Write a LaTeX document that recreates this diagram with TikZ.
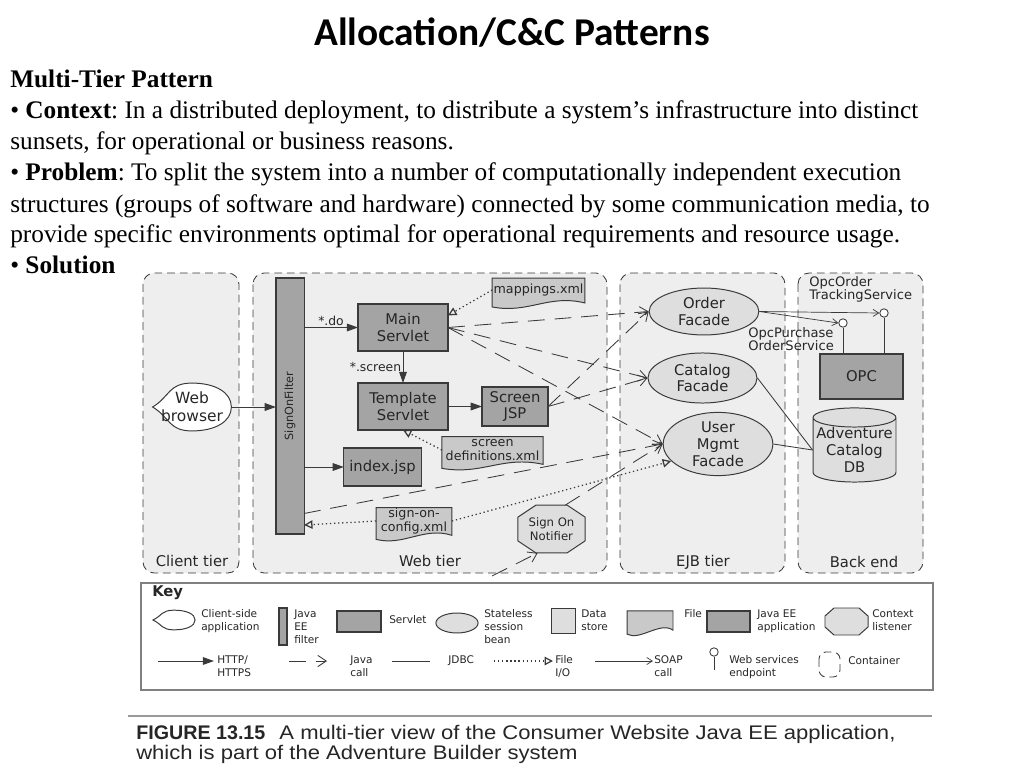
\documentclass[tikz,border=0pt]{standalone}
\usepackage{fontspec}
\setmainfont{Liberation Serif}
\newfontfamily\titlefont{Carlito}
\newfontfamily\figfont{DejaVu Sans}
\newfontfamily\capfont[FakeStretch=1.12]{Liberation Sans}
\newfontfamily\capbold{Liberation Sans}
\usetikzlibrary{arrows.meta,shapes.geometric,calc}

\pgfdeclarelayer{back}
\pgfdeclarelayer{mid}
\pgfsetlayers{back,mid,main}

\definecolor{tierfill}{HTML}{EEEEEE}
\definecolor{boxgray}{HTML}{A4A4A4}
\definecolor{beanfill}{HTML}{DEDEDE}
\definecolor{filefill}{HTML}{C9C9C9}
\definecolor{linegray}{HTML}{3A3A3A}
\definecolor{inkgray}{HTML}{262626}

% outline of a file (wavy bottom) round a node
\newcommand\docfile[1]{%
  \path[filebody] (#1.north west) -- (#1.north east) -- ($(#1.south east)+(0,1)$)
    .. controls ($(#1.south)+(10,-8)$) and ($(#1.south)+(-10,12)$) .. ($(#1.south west)+(0,5)$) -- cycle;}
% outline of a client-side application
\newcommand\clientout[1]{%
  \path[clientbody] (#1.west) .. controls ($(#1.west)!0.45!(#1.north)$) and ($(#1.north)!0.6!(#1.north west)$) .. (#1.north)
    .. controls ($(#1.north)!0.6!(#1.north east)$) and ($(#1.east)!0.6!(#1.north east)$) .. (#1.east)
    .. controls ($(#1.east)!0.6!(#1.south east)$) and ($(#1.south)!0.6!(#1.south east)$) .. (#1.south)
    .. controls ($(#1.south)!0.6!(#1.south west)$) and ($(#1.west)!0.45!(#1.south)$) .. (#1.west) -- cycle;}
% outline of a context listener (octagon)
\newcommand\octout[3]{%
  \path[listenbody] ($(#1.north west)+(#2,0)$) -- ($(#1.north east)+(-#2,0)$) -- ($(#1.north east)+(0,#3)$)
    -- ($(#1.south east)+(0,-#3)$) -- ($(#1.south east)+(-#2,0)$) -- ($(#1.south west)+(#2,0)$)
    -- ($(#1.south west)+(0,-#3)$) -- ($(#1.north west)+(0,#3)$) -- cycle;}

\tikzset{
  tier/.style={draw=linegray, fill=tierfill, line width=0.6pt, dash pattern=on 5.5pt off 3.5pt, rounded corners=8pt},
  tierlbl/.style={font=\figfont\fontsize{10.5}{12}\selectfont, text=inkgray},
  srv/.style={draw=linegray, fill=boxgray, line width=0.8pt, align=center, text=inkgray, inner sep=1pt, outer sep=0pt,
    font=\figfont\fontsize{10.5}{12}\selectfont, minimum width=64pt, minimum height=33.4pt},
  bean/.style={ellipse, draw=linegray, fill=beanfill, line width=0.7pt, align=center, text=inkgray, inner sep=0pt,
    font=\figfont\fontsize{10.5}{12}\selectfont},
  store/.style={cylinder, shape border rotate=90, aspect=0.25, draw=linegray, fill=beanfill, line width=0.7pt,
    align=center, text=inkgray, inner sep=0pt, font=\figfont\fontsize{10.5}{12}\selectfont},
  xmlfile/.style={align=center, inner sep=0pt, outer sep=0pt, text=inkgray, font=\figfont\fontsize{9}{9.5}\selectfont},
  filebody/.style={draw=linegray, fill=filefill, line width=0.7pt},
  clientbody/.style={draw=linegray, fill=white, line width=0.7pt},
  listenbody/.style={draw=linegray, fill=beanfill, line width=0.7pt},
  endpt/.style={circle, draw=linegray, fill=white, line width=0.6pt, minimum size=6pt, inner sep=0pt},
  svclbl/.style={align=left, inner sep=0pt, text=inkgray, font=\figfont\fontsize{9.3}{9.3}\selectfont},
  arrlbl/.style={inner sep=1pt, text=inkgray, font=\figfont\fontsize{8.8}{10}\selectfont},
  http/.style={draw=linegray, line width=0.7pt, -{Triangle[length=8pt,width=5.5pt]}},
  jcall/.style={draw=linegray, line width=0.6pt, dash pattern=on 12pt off 7pt, -{Straight Barb[length=6pt,width=8pt]}},
  fio/.style={draw=linegray, line width=0.9pt, dotted, -{Triangle[open,length=6pt,width=6pt]}},
  soap/.style={draw=linegray, line width=0.5pt, -{Straight Barb[length=4pt,width=5pt]}},
  jdbc/.style={draw=linegray, line width=0.6pt},
  keytxt/.style={anchor=north west, align=left, inner sep=0pt, text=inkgray, font=\figfont\fontsize{7.5}{9.2}\selectfont},
  body/.style={anchor=base west, inner sep=0pt, font=\fontsize{18}{21}\selectfont},
}

\begin{document}
\frenchspacing
\begin{tikzpicture}[x=0.025cm, y=-0.025cm]
    \useasboundingbox (0,0) rectangle (1024,768);
    \begin{pgfonlayer}{back}
        \fill[white] (0,0) rectangle (1024,768);
        % the four containers
        \path[tier] (143,273) rectangle (239,573);
        \path[tier] (253,273) rectangle (607,573);
        \path[tier] (620,273) rectangle (785,573);
        \path[tier] (798,273) rectangle (923,573);
    \end{pgfonlayer}

    % slide text
    \node[anchor=base, inner sep=0pt, font=\titlefont\bfseries\fontsize{28}{32}\selectfont] (title) at (512,46) {Allocation/C\&C Patterns};
    \node[body] (head) at (10,88) {\textbf{Multi-Tier Pattern}};
    \node[body] (ctx1) at (10,119) {• \textbf{Context}: In a distributed deployment, to distribute a system’s infrastructure into distinct};
    \node[body] (ctx2) at (10,150) {sunsets, for operational or business reasons.};
    \node[body] (prb1) at (10,181) {• \textbf{Problem}: To split the system into a number of computationally independent execution};
    \node[body] (prb2) at (10,212) {structures (groups of software and hardware) connected by some communication media, to};
    \node[body] (prb3) at (10,242) {provide specific environments optimal for operational requirements and resource usage.};
    \node[body] (sol) at (10,273) {• \textbf{Solution}};

    % tier names
    \node[tierlbl] (lclient) at (192,561) {Client tier};
    \node[tierlbl] (lweb) at (430,561) {Web tier};
    \node[tierlbl] (lejb) at (703,562) {EJB tier};
    \node[tierlbl] (lback) at (864,562) {Back end};

    % client and web tier
    \node[minimum width=56pt, minimum height=34pt, inner sep=0pt, outer sep=0pt, align=center, text=inkgray,
        font=\figfont\fontsize{11}{12.5}\selectfont] (browser) at (192,407) {Web\\browser};
    \node[srv, minimum width=20pt, minimum height=182pt] (signon) at (290,406)
        {\rotatebox{90}{\fontsize{8}{10}\selectfont SignOnFilter}};
    \node[srv] (main) at (403,327.5) {Main\\Servlet};
    \node[srv] (tmpl) at (403,406.5) {Template\\Servlet};
    \node[srv, minimum width=47pt, minimum height=27.7pt] (scrjsp) at (515,406.5) {Screen\\JSP};
    \node[srv, minimum width=55pt, minimum height=27pt] (index) at (382.5,467) {index.jsp};
    \node[xmlfile, minimum width=66pt, minimum height=17pt] (maps) at (538.5,290) {mappings.xml};
    \node[xmlfile, minimum width=72pt, minimum height=19pt] (scrdef) at (492.5,450) {screen\\definitions.xml};
    \node[xmlfile, minimum width=54pt, minimum height=19pt] (sgncfg) at (414,521) {sign-on-\\config.xml};
    \node[inner sep=0pt, outer sep=0pt, minimum width=47.7pt, minimum height=34pt, align=center, text=inkgray,
        font=\figfont\fontsize{8.3}{10}\selectfont] (notif) at (551.5,529) {Sign On\\Notifier};
    \coordinate (notifsrc) at (492,576);

    % EJB tier and back end
    \node[bean, minimum width=78pt, minimum height=33.4pt] (ofac) at (704,311.5) {Order\\Facade};
    \node[bean, minimum width=77.5pt, minimum height=35.6pt] (cfac) at (702.5,378) {Catalog\\Facade};
    \node[bean, minimum width=78pt, minimum height=37pt] (umfac) at (718,444) {User\\Mgmt\\Facade};
    \node[srv, minimum width=59pt, minimum height=32pt] (opc) at (861.5,376.5) {OPC};
    \node[store, minimum width=59pt, minimum height=47pt] (db) at (854.5,450) {Adventure\\Catalog\\DB};
    \node[endpt] (pos) at (843,323) {};
    \node[endpt] (ots) at (884,313) {};
    \node[svclbl, anchor=west] (lots) at (809,289) {OpcOrder\\TrackingService};
    \node[svclbl, anchor=west] (lpos) at (748,339) {OpcPurchase\\OrderService};

    \begin{pgfonlayer}{mid}
        \clientout{browser}
        \docfile{maps}
        \docfile{scrdef}
        \docfile{sgncfg}
        \octout{notif}{18}{12}
    \end{pgfonlayer}

    % HTTP
    \draw[http] (browser.east) -- (browser.east -| signon.west);
    \draw[http] (main.west -| signon.east) -- node[arrlbl, above] (ldo) {*.do} (main.west);
    \draw[http] (main.south) -- node[arrlbl, left] (lscreen) {*.screen} (tmpl.north);
    \draw[http] (tmpl.east) -- (scrjsp.west);
    \draw[http] (index.west -| signon.east) -- (index.west);

    % Java calls
    \draw[jcall] (main.east) -- (ofac.west);
    \draw[jcall] (main.east) -- (cfac.west);
    \draw[jcall] (main.east) -- (umfac.west);
    \draw[jcall] (scrjsp.east) -- (ofac.west);
    \draw[jcall] (scrjsp.east) -- (cfac.west);
    \draw[jcall] ($(signon.south east)!0.08!(signon.north east)$) -- (umfac.west);
    \draw[jcall] (notif.60) -- (umfac.west);
    \draw[jcall] (notifsrc) -- (notif.240);

    % file I/O
    \draw[fio] (maps.west) -- (main.15);
    \draw[fio] (scrdef.west) -- (tmpl.south);
    \draw[fio] (sgncfg.west) -- ($(signon.south east)!0.035!(signon.north east)$);
    \draw[fio] (sgncfg.east) -- (umfac.200);

    % SOAP and JDBC
    \draw[soap] (ofac.east) -- (pos.west);
    \draw[soap] (ofac.east) -- (ots.west);
    \draw[jdbc] (pos.south) -- (pos |- opc.north);
    \draw[jdbc] (ots.south) -- (ots |- opc.north);
    \draw[jdbc] (cfac.east) -- (db.west);
    \draw[jdbc] (umfac.east) -- (db.west);

    % key
    \draw[draw=gray, line width=0.8pt] (141,583) rectangle (933,690);
    \node[anchor=west, inner sep=0pt, text=inkgray, font=\figfont\bfseries\fontsize{10.5}{12}\selectfont] (key) at (152,593) {Key};
    \node[minimum width=30pt, minimum height=14pt, inner sep=0pt, outer sep=0pt] (kclient) at (174,620) {};
    \node[srv, minimum width=5.7pt, minimum height=26.3pt] (kfilter) at (283,626.5) {};
    \node[srv, minimum width=31.3pt, minimum height=15pt] (kservlet) at (359,621.5) {};
    \node[bean, minimum width=30pt, minimum height=14.2pt] (kbean) at (457,623) {};
    \node[store, aspect=0.9, minimum width=16.4pt, minimum height=17.8pt] (kstore) at (563.5,621.5) {\vphantom{x}};
    \node[xmlfile, minimum width=32.7pt, minimum height=13pt] (kfile) at (650,620) {};
    \node[srv, minimum width=30.6pt, minimum height=15pt] (kapp) at (728.5,621.5) {};
    \node[inner sep=0pt, outer sep=0pt, minimum width=30.6pt, minimum height=19.2pt] (klisten) at (846.5,621.5) {};
    \begin{pgfonlayer}{mid}
        \clientout{kclient}
        \docfile{kfile}
        \octout{klisten}{9}{8}
    \end{pgfonlayer}
    \node[keytxt] (tclient) at (201,609.5) {Client-side\\application};
    \node[keytxt] (tfilter) at (294,609.5) {Java\\EE\\filter};
    \node[keytxt, anchor=west] (tservlet) at (389,620) {Servlet};
    \node[keytxt] (tbean) at (484,609.5) {Stateless\\session\\bean};
    \node[keytxt] (tstore) at (581,609.5) {Data\\store};
    \node[keytxt] (tfile) at (684,609.5) {File};
    \node[keytxt] (tapp) at (757,609.5) {Java EE\\application};
    \node[keytxt] (tlisten) at (872,609.5) {Context\\listener};

    \draw[http] (158,661) -- (214,661);
    \node[keytxt] (thttp) at (217,655.5) {HTTP/\\HTTPS};
    \draw[jcall] (289,661) -- (327,661);
    \node[keytxt] (tjcall) at (350,655.5) {Java\\call};
    \draw[jdbc] (392,661) -- (430,661);
    \node[keytxt, anchor=west] (tjdbc) at (448,661) {JDBC};
    \draw[fio] (494,661) -- (553,661);
    \node[keytxt] (tfio) at (555,655.5) {File\\I/O};
    \draw[soap] (595,661) -- (653,661);
    \node[keytxt] (tsoap) at (654,655.5) {SOAP\\call};
    \node[endpt] (kendpt) at (714,652) {};
    \draw[jdbc] (kendpt.south) -- (714,670);
    \node[keytxt] (tendpt) at (729,655.5) {Web services\\endpoint};
    \draw[tier, fill=white, rounded corners=5pt] (819,652) rectangle (840,677);
    \node[keytxt, anchor=west] (tcont) at (848,661) {Container};

    % caption
    \draw[gray!80, line width=1.2pt] (128,716) -- (932,716);
    \node[anchor=north west, inner sep=0pt, align=left, text=inkgray, font=\capfont\fontsize{14}{12.8}\selectfont] (caption) at (136,725)
        {{\capbold\bfseries FIGURE 13.15}\hspace{10pt}A multi-tier view of the Consumer Website Java EE application,\\which is part of the Adventure Builder system};
\end{tikzpicture}
\end{document}
